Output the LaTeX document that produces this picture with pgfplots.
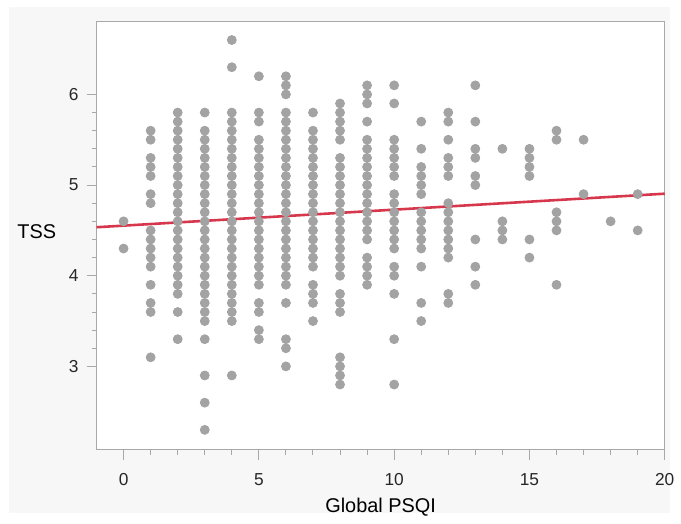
\documentclass[border=0pt]{standalone}
\usepackage{pgfplots}
\pgfplotsset{compat=1.18}
\usepackage{fontspec}
\setmainfont{Liberation Sans}

\definecolor{dotgray}{RGB}{163,163,163}
\definecolor{fitred}{RGB}{214,55,76}
\definecolor{framegray}{RGB}{168,168,168}
\definecolor{bggray}{RGB}{247,247,247}

\begin{document}
\begin{tikzpicture}
  % page background
  \fill[white] (-48.5pt,-36pt) rectangle (292pt,226pt);
  \fill[bggray] (-44pt,-32pt) rectangle (288pt,222.5pt);
  \begin{axis}[
    scale only axis,
    width=285.5pt, height=215pt,
    xmin=-1, xmax=20,
    ymin=2.08, ymax=6.8,
    xtick={0,5,10,15,20},
    ytick={3,4,5,6},
    minor x tick num=4,
    minor y tick num=4,
    xtick pos=left, ytick pos=left,
    tick align=outside,
    major tick length=5pt,
    minor tick length=2.5pt,
    every tick/.style={framegray, line width=0.5pt},
    axis line style={framegray, line width=0.6pt},
    axis background/.style={fill=white},
    /pgf/number format/assume math mode=true,
    tick label style={font=\fontsize{8.7}{10}\selectfont, text=black!85},
    xticklabel style={yshift=-3.5pt},
    yticklabel style={xshift=-0.5pt},
    xlabel={Global PSQI},
    ylabel={TSS},
    label style={font=\fontsize{9.3}{11}\selectfont, text=black!85},
    every axis x label/.style={at={(axis description cs:0.5,0)}, anchor=center, yshift=-29pt},
    every axis y label/.style={at={(axis description cs:0,0.5)}, anchor=center, xshift=-30pt, yshift=2pt},
    clip=false,
  ]
    \addplot[only marks, mark=*, mark size=2.25pt, color=dotgray] coordinates {
      (0,4.6) (0,4.3)
      (1,5.6) (1,5.5) (1,5.3) (1,5.2) (1,5.1) (1,4.9) (1,4.8) (1,4.5) (1,4.4) (1,4.3) (1,4.2) (1,4.1) (1,3.9) (1,3.7) (1,3.6) (1,3.1)
      (2,5.8) (2,5.7) (2,5.6) (2,5.5) (2,5.4) (2,5.3) (2,5.2) (2,5.1) (2,5.0) (2,4.9) (2,4.8) (2,4.7) (2,4.6) (2,4.5) (2,4.4) (2,4.3) (2,4.2) (2,4.1) (2,4.0) (2,3.9) (2,3.8) (2,3.6) (2,3.3)
      (3,5.8) (3,5.6) (3,5.5) (3,5.4) (3,5.3) (3,5.2) (3,5.1) (3,5.0) (3,4.9) (3,4.8) (3,4.7) (3,4.6) (3,4.5) (3,4.4) (3,4.3) (3,4.2) (3,4.1) (3,4.0) (3,3.9) (3,3.8) (3,3.7) (3,3.6) (3,3.5) (3,3.3) (3,2.9) (3,2.6) (3,2.3)
      (4,6.6) (4,6.3) (4,5.8) (4,5.7) (4,5.6) (4,5.5) (4,5.4) (4,5.3) (4,5.2) (4,5.1) (4,5.0) (4,4.9) (4,4.8) (4,4.7) (4,4.6) (4,4.5) (4,4.4) (4,4.3) (4,4.2) (4,4.1) (4,4.0) (4,3.9) (4,3.8) (4,3.7) (4,3.6) (4,3.5) (4,2.9)
      (5,6.2) (5,5.8) (5,5.7) (5,5.5) (5,5.4) (5,5.3) (5,5.2) (5,5.1) (5,5.0) (5,4.9) (5,4.8) (5,4.7) (5,4.6) (5,4.5) (5,4.4) (5,4.3) (5,4.2) (5,4.1) (5,4.0) (5,3.9) (5,3.7) (5,3.6) (5,3.4) (5,3.3)
      (6,6.2) (6,6.1) (6,6.0) (6,5.8) (6,5.7) (6,5.6) (6,5.5) (6,5.4) (6,5.3) (6,5.2) (6,5.1) (6,5.0) (6,4.9) (6,4.8) (6,4.7) (6,4.6) (6,4.5) (6,4.4) (6,4.3) (6,4.2) (6,4.1) (6,4.0) (6,3.9) (6,3.7) (6,3.3) (6,3.2) (6,3.0)
      (7,5.8) (7,5.6) (7,5.5) (7,5.4) (7,5.3) (7,5.2) (7,5.1) (7,5.0) (7,4.9) (7,4.8) (7,4.7) (7,4.6) (7,4.5) (7,4.4) (7,4.3) (7,4.2) (7,4.1) (7,3.9) (7,3.8) (7,3.7) (7,3.5)
      (8,5.9) (8,5.8) (8,5.7) (8,5.6) (8,5.5) (8,5.3) (8,5.2) (8,5.1) (8,5.0) (8,4.9) (8,4.8) (8,4.7) (8,4.6) (8,4.5) (8,4.4) (8,4.3) (8,4.2) (8,4.1) (8,4.0) (8,3.8) (8,3.7) (8,3.6) (8,3.1) (8,3.0) (8,2.9) (8,2.8)
      (9,6.1) (9,6.0) (9,5.9) (9,5.7) (9,5.5) (9,5.4) (9,5.3) (9,5.2) (9,5.1) (9,5.0) (9,4.9) (9,4.8) (9,4.7) (9,4.6) (9,4.5) (9,4.4) (9,4.2) (9,4.1) (9,4.0) (9,3.9)
      (10,6.1) (10,5.9) (10,5.5) (10,5.4) (10,5.3) (10,5.2) (10,5.1) (10,4.9) (10,4.8) (10,4.7) (10,4.6) (10,4.5) (10,4.4) (10,4.3) (10,4.1) (10,4.0) (10,3.8) (10,3.3) (10,2.8)
      (11,5.7) (11,5.4) (11,5.2) (11,5.1) (11,5.0) (11,4.9) (11,4.7) (11,4.6) (11,4.5) (11,4.4) (11,4.3) (11,4.1) (11,3.7) (11,3.5)
      (12,5.8) (12,5.7) (12,5.5) (12,5.3) (12,5.2) (12,5.1) (12,4.8) (12,4.7) (12,4.6) (12,4.5) (12,4.4) (12,4.3) (12,4.2) (12,3.8) (12,3.7)
      (13,6.1) (13,5.7) (13,5.4) (13,5.3) (13,5.1) (13,5.0) (13,4.4) (13,4.1) (13,3.9)
      (14,5.4) (14,4.6) (14,4.5) (14,4.4)
      (15,5.4) (15,5.3) (15,5.2) (15,5.1) (15,4.4) (15,4.2)
      (16,5.6) (16,5.5) (16,4.7) (16,4.6) (16,4.5) (16,3.9)
      (17,5.5) (17,4.9)
      (18,4.6)
      (19,4.9) (19,4.5)
    };
    % fitted line
    \addplot[fitred, line width=1.3pt, no marks] coordinates {(-1,4.535) (20,4.905)};
  \end{axis}
\end{tikzpicture}
\end{document}
